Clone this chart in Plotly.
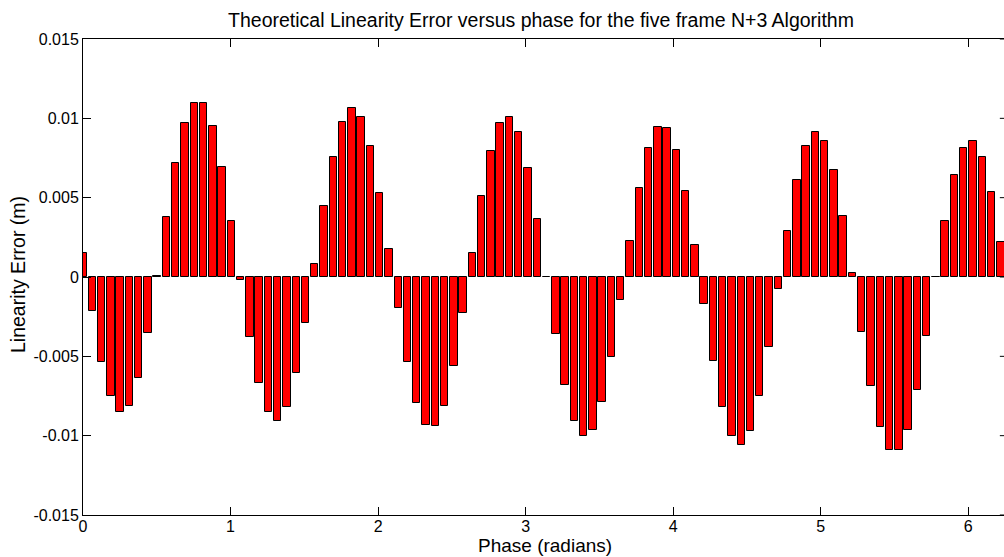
import math
import plotly.graph_objects as go

# Linearity error (m), one bar per phase step (2*pi/100)
error = [
    0.00153, -0.00213, -0.00533, -0.00753, -0.00851, -0.00812, -0.00638, -0.00351, 0.00005, 0.00381,
    0.00718, 0.00969, 0.01098, 0.01094, 0.00950, 0.00692, 0.00354, -0.00021, -0.00377, -0.00665,
    -0.00851, -0.00906, -0.00820, -0.00603, -0.00289, 0.00080, 0.00448, 0.00757, 0.00977, 0.01063,
    0.01008, 0.00824, 0.00529, 0.00178, -0.00195, -0.00533, -0.00791, -0.00935, -0.00941, -0.00810,
    -0.00559, -0.00224, 0.00153, 0.00508, 0.00793, 0.00969, 0.01010, 0.00912, 0.00686, 0.00368,
    0.00003, -0.00362, -0.00680, -0.00906, -0.01000, -0.00962, -0.00789, -0.00502, -0.00146, 0.00228,
    0.00563, 0.00816, 0.00944, 0.00939, 0.00799, 0.00540, 0.00201, -0.00172, -0.00527, -0.00820,
    -0.01000, -0.01056, -0.00973, -0.00753, -0.00444, -0.00073, 0.00293, 0.00611, 0.00824, 0.00912,
    0.00856, 0.00672, 0.00385, 0.00027, -0.00349, -0.00686, -0.00946, -0.01088, -0.01092, -0.00964,
    -0.00711, -0.00374, -0.00002, 0.00356, 0.00642, 0.00816, 0.00856, 0.00757, 0.00536, 0.00220,
]
phase_step = 2 * math.pi / 100
phase = [k * phase_step for k in range(len(error))]

x_ticks = [0, 1, 2, 3, 4, 5, 6]
y_ticks = [-0.015, -0.01, -0.005, 0, 0.005, 0.01, 0.015]
y_tick_labels = ["-0.015", "-0.01", "-0.005", "0", "0.005", "0.01", "0.015"]

FONT = "Liberation Sans, Arial, Helvetica, sans-serif"
W, H = 1004, 557
L, T, B = 83, 39, 42

fig = go.Figure()
fig.add_trace(go.Bar(
    x=phase, y=error, width=0.8 * phase_step,
    marker=dict(color="#ff0000", line=dict(color="black", width=1)),
    showlegend=False,
))

# partial right-side tick marks (right spine lies just outside the cropped image)
shapes = []
for v in y_ticks:
    shapes.append(dict(type="line", xref="paper", yref="y", x0=0.9955, x1=1.0, y0=v, y1=v,
                       line=dict(color="black", width=1)))

pw = W - L
ph = H - T - B
annotations = [
    dict(text="Phase (radians)", xref="paper", yref="paper",
         x=(545 - L) / pw, y=-(545 - (H - B)) / ph, xanchor="center", yanchor="middle",
         showarrow=False, font=dict(family=FONT, size=19, color="black")),
    dict(text="Linearity Error (m)", xref="paper", yref="paper",
         x=-(L - 18) / pw, y=(H - B - 275) / ph, xanchor="center", yanchor="middle",
         textangle=-90, showarrow=False, font=dict(family=FONT, size=19.5, color="black")),
]

fig.update_layout(
    width=W, height=H,
    margin=dict(l=L, r=0, t=T, b=B),
    paper_bgcolor="white", plot_bgcolor="white",
    font=dict(family=FONT, color="black", size=16),
    bargap=0,
    title=dict(text="Theoretical Linearity Error versus phase for the five frame N+3 Algorithm",
               x=541 / W, xref="container", xanchor="center",
               y=1 - 20 / H, yref="container", yanchor="middle",
               font=dict(family=FONT, size=19.5, color="black")),
    xaxis=dict(range=[0, 6.242], tickvals=x_ticks, ticks="inside", ticklen=8, tickcolor="black",
               showline=True, linecolor="black", linewidth=1, mirror="ticks",
               showgrid=False, zeroline=False, automargin=False,
               tickfont=dict(size=16), ticklabelstandoff=-3),
    yaxis=dict(range=[-0.015, 0.015], tickvals=y_ticks, ticktext=y_tick_labels,
               ticks="inside", ticklen=8, tickcolor="black",
               showline=True, linecolor="black", linewidth=1, mirror=False,
               showgrid=False, zeroline=False, automargin=False,
               tickfont=dict(size=16)),
    shapes=shapes,
    annotations=annotations,
)

fig.write_html("out.html",
               config={"displayModeBar": False},
               post_script="document.body.style.margin='0';document.body.style.overflow='hidden';")
